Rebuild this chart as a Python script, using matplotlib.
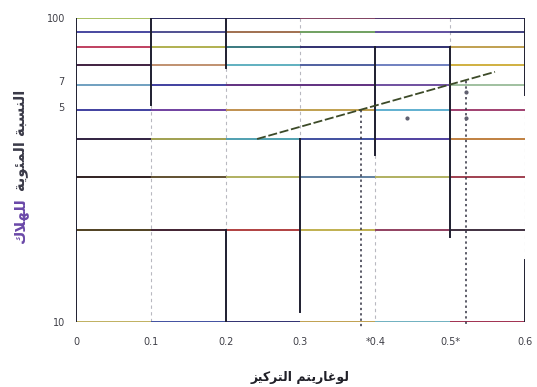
import matplotlib
matplotlib.use("Agg")
import matplotlib.pyplot as plt
import numpy as np

# ---- data ----
x_ticks = [0, 0.1, 0.2, 0.3, 0.4, 0.5, 0.6]
x_tick_labels = ["0", "0.1", "0.2", "0.3", "*0.4", "0.5*", "0.6"]
y_ticks = [10, 51, 62, 100]
y_tick_labels = ["10", "5", "7", "100"]
y_label_top = "النسبة المئوية"
y_label_bottom = "للهلاك"
x_label = "لوغاريتم التركيز"

# horizontal grid levels (percent), each drawn in six pieces of mixed ink
grid_levels = [100, 90, 80, 70, 60, 50, 40, 30, 20, 10]
grid_colors = [
    ['#a8c060', '#2a2a60', '#2a2a60', '#804060', '#50306a', '#2a2a60'],
    ['#4848a0', '#505090', '#a07050', '#70a060', '#6050a0', '#404080'],
    ['#c04060', '#b0b050', '#3a7a80', '#303070', '#303070', '#c0a050'],
    ['#402040', '#c09070', '#60b0c0', '#5060a0', '#7080c0', '#d0b040'],
    ['#70a0c0', '#4040a0', '#603080', '#603080', '#7050a0', '#a0c0a0'],
    ['#4040a0', '#7040a0', '#c09050', '#c0a050', '#60b0d0', '#a04070'],
    ['#302040', '#a0a050', '#50a0b0', '#4050a0', '#5040a0', '#c08040'],
    ['#302020', '#605030', '#b0b060', '#6080a0', '#b0b060', '#a04050'],
    ['#504020', '#402030', '#b04040', '#c0b050', '#904060', '#403040'],
    ['#c0b060', '#4050a0', '#303070', '#c0a050', '#70b0c0', '#a03050'],
]
seg_edges = [0, 0.1, 0.2, 0.3, 0.4, 0.5, 0.6]

# vertical grid pieces: (x, top %, bottom %)
v_dark = [(0.0, 100, 10), (0.1, 100, 51.7), (0.2, 100, 68.5), (0.2, 20, 10),
          (0.3, 40, 10.8), (0.4, 80, 35.4), (0.5, 80, 19), (0.6, 100, 56), (0.6, 16, 10)]
v_faint = [(0.1, 51.7, 10), (0.2, 68.5, 20), (0.3, 100, 40), (0.4, 35.4, 10),
           (0.5, 100, 80), (0.6, 56, 16)]
v_dotted = [(0.381, 50, 9.6), (0.521, 62, 9.6)]

# fitted probit line and scattered points
fit_x = [0.242, 0.56]
fit_y = [40, 66.5]
pts_x = [0.443, 0.521, 0.521]
pts_y = [47, 47, 57]

# ---- arabic shaping (presentation forms, right to left) ----
FORMS = {
    'ا': ('\ufe8d', '\ufe8e', None, None),
    'ب': ('\ufe8f', '\ufe90', '\ufe91', '\ufe92'),
    'ة': ('\ufe93', '\ufe94', None, None),
    'ت': ('\ufe95', '\ufe96', '\ufe97', '\ufe98'),
    'ر': ('\ufead', '\ufeae', None, None),
    'ز': ('\ufeaf', '\ufeb0', None, None),
    'س': ('\ufeb1', '\ufeb2', '\ufeb3', '\ufeb4'),
    'غ': ('\ufecd', '\ufece', '\ufecf', '\ufed0'),
    'ك': ('\ufed9', '\ufeda', '\ufedb', '\ufedc'),
    'ل': ('\ufedd', '\ufede', '\ufedf', '\ufee0'),
    'م': ('\ufee1', '\ufee2', '\ufee3', '\ufee4'),
    'ن': ('\ufee5', '\ufee6', '\ufee7', '\ufee8'),
    'ه': ('\ufee9', '\ufeea', '\ufeeb', '\ufeec'),
    'و': ('\ufeed', '\ufeee', None, None),
    'ي': ('\ufef1', '\ufef2', '\ufef3', '\ufef4'),
    'ئ': ('\ufe89', '\ufe8a', '\ufe8b', '\ufe8c'),
    'لا': ('\ufefb', '\ufefc', None, None),
}


def shape(text):
    out = []
    for word in text.split(' '):
        units = []
        i = 0
        while i < len(word):
            if word[i] == 'ل' and i + 1 < len(word) and word[i + 1] == 'ا':
                units.append('لا')
                i += 2
            else:
                units.append(word[i])
                i += 1
        w = ''
        for k, u in enumerate(units):
            prev = k > 0 and FORMS[units[k - 1]][2] is not None
            nxt = FORMS[u][2] is not None and k < len(units) - 1
            if prev and nxt:
                w += FORMS[u][3]
            elif prev:
                w += FORMS[u][1]
            elif nxt:
                w += FORMS[u][2]
            else:
                w += FORMS[u][0]
        out.append(w)
    return ' '.join(out)[::-1]


fig = plt.figure(figsize=(5.37, 3.87), dpi=100)
ax = fig.add_axes([0.1415, 0.168, 0.836, 0.7855])
ax.set_yscale('log')
ax.set_xlim(0, 0.6)
ax.set_ylim(10, 100)

for lvl, cols in zip(grid_levels, grid_colors):
    for j, c in enumerate(cols):
        ax.plot([seg_edges[j], seg_edges[j + 1]], [lvl, lvl], color=c, lw=1.4,
                solid_capstyle='butt', zorder=2)

for x, top, bot in v_faint:
    ax.plot([x, x], [top, bot], color='#b8b8c0', lw=0.8, ls=(0, (3, 3)), zorder=1)
for x, top, bot in v_dark:
    ax.plot([x, x], [top, bot], color='#1e1e30', lw=1.4, zorder=3)
for x, top, bot in v_dotted:
    ax.plot([x, x], [top, bot], color='#303040', lw=1.1, ls=(0, (1.5, 2)),
            clip_on=False, zorder=3)

ax.plot(fit_x, fit_y, color='#3c4a28', lw=1.3, ls=(0, (5, 1.5)), zorder=4)
ax.plot(pts_x, pts_y, 'o', ms=2, color='#606070', zorder=4)

for s in ax.spines.values():
    s.set_visible(False)
ax.minorticks_off()
ax.set_xticks(x_ticks)
ax.set_xticklabels(x_tick_labels, fontsize=7, color='#404048')
ax.set_yticks(y_ticks)
ax.set_yticklabels(y_tick_labels, fontsize=7, color='#404048')
ax.tick_params(axis='x', length=0, pad=11)
ax.tick_params(axis='y', length=0, pad=8)

ax.set_xlabel(shape(x_label), fontsize=9, fontweight='bold', color='#202028', labelpad=17)

# y label: dark upper words, inky purple last word
fig.text(0.038, 1 - 140 / 387, shape(y_label_top), rotation=90, fontsize=10.5,
         fontweight='bold', color='#3a3a48', ha='center', va='center')
fig.text(0.038, 1 - 220 / 387, shape(y_label_bottom), rotation=90, fontsize=10.5,
         fontweight='bold', color='#6a48a8', ha='center', va='center')

fig.savefig('out.png', dpi=100)
